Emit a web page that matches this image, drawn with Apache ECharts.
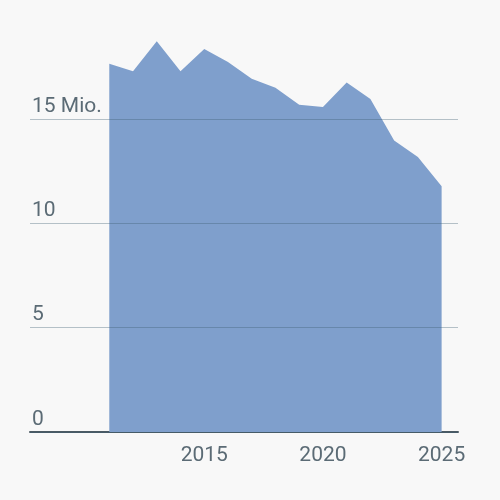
<!DOCTYPE html>
<html>
<head>
<meta charset="utf-8">
<script src="https://cdn.jsdelivr.net/npm/echarts@6/dist/echarts.min.js"></script>
<style>html,body{margin:0;padding:0;background:#f8f8f8;}#c{width:500px;height:500px;}</style>
</head>
<body>
<div id="c"></div>
<script>
var years = [2011, 2012, 2013, 2014, 2015, 2016, 2017, 2018, 2019, 2020, 2021, 2022, 2023, 2024, 2025];
var values = [17.65, 17.28, 18.72, 17.28, 18.35, 17.73, 16.93, 16.5, 15.68, 15.57, 16.75, 15.96, 13.97, 13.18, 11.77];
var xTickLabels = [2015, 2020, 2025];
var yTickValues = [0, 5, 10, 15, 20];
var yTickLabels = ['0', '5', '10', '15 Mio.', ''];

var chart = echarts.init(document.getElementById('c'), null, {renderer: 'canvas'});
var textColor = '#5b6b75';
var fontFamily = 'Roboto, "Noto Sans", sans-serif';
chart.setOption({
  backgroundColor: '#f8f8f8',
  animation: false,
  grid: {left: 30, right: 42, top: 14.6, bottom: 68, containLabel: false},
  xAxis: {
    type: 'value',
    min: 2007.66,
    max: 2025.69,
    axisLine: {show: true, lineStyle: {color: '#4b5a63', width: 2}},
    axisTick: {show: false},
    splitLine: {show: false},
    axisLabel: {
      customValues: xTickLabels,
      color: textColor,
      fontSize: 21,
      fontFamily: fontFamily,
      margin: 13,
      formatter: function (v) { return String(v); }
    }
  },
  yAxis: {
    type: 'value',
    min: 0,
    max: 20,
    interval: 5,
    z: 5,
    axisLine: {show: false},
    axisTick: {show: false},
    splitLine: {
      show: true,
      lineStyle: {
        color: ['rgba(60,95,115,0.36)', 'rgba(60,95,115,0.36)', 'rgba(60,95,115,0.36)', 'rgba(60,95,115,0.36)', 'rgba(0,0,0,0)'],
        width: 1
      }
    },
    axisLabel: {
      inside: true,
      margin: 2,
      align: 'left',
      verticalAlign: 'bottom',
      padding: [0, 0, 2, 0],
      color: textColor,
      fontSize: 21,
      fontFamily: fontFamily,
      formatter: function (v) {
        var i = yTickValues.indexOf(v);
        return i >= 0 ? yTickLabels[i] : '';
      }
    }
  },
  series: [{
    type: 'line',
    data: years.map(function (y, i) { return [y, values[i]]; }),
    symbol: 'none',
    lineStyle: {width: 0},
    areaStyle: {color: '#7f9fcc', opacity: 1}
  }]
});
</script>
</body>
</html>
